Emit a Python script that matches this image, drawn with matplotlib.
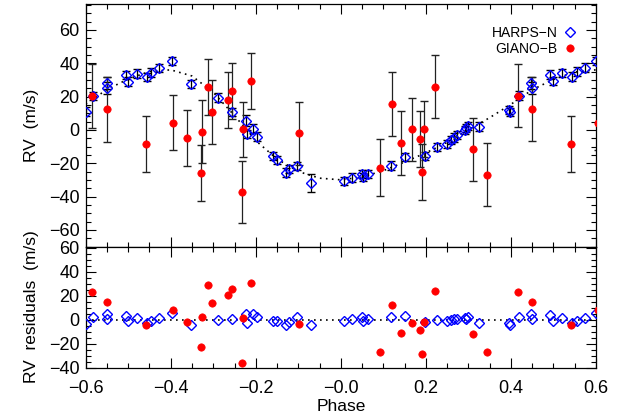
import matplotlib
matplotlib.use("Agg")
import matplotlib.pyplot as plt
from matplotlib.ticker import MultipleLocator, FixedLocator, FixedFormatter

plt.rcParams['font.family'] = ['Liberation Sans', 'DejaVu Sans']

# ---------------- data ----------------
# model curve (dotted)
m_phase = [-0.60, -0.55, -0.50, -0.45, -0.40, -0.35, -0.30, -0.25, -0.20, -0.15,
           -0.10, -0.05, 0.00, 0.05, 0.10, 0.15, 0.20, 0.25, 0.30, 0.35,
           0.40, 0.45, 0.50, 0.55, 0.60]
m_rv = [15.5, 24.2, 30.5, 35.0, 36.0, 32.3, 22.5, 8.5, -6.5, -17.5,
        -25.0, -29.0, -30.0, -28.3, -24.5, -19.3, -13.8, -7.5, 0.0, 7.3,
        15.3, 24.0, 30.3, 34.7, 36.0]

# HARPS-N
h_phase = [-0.599, -0.584, -0.551, -0.551, -0.506, -0.500, -0.480, -0.457, -0.446, -0.427,
           -0.397, -0.352, -0.290, -0.255, -0.2235, -0.221, -0.207, -0.198, -0.160, -0.151,
           -0.130, -0.122, -0.104, -0.071,
           0.008, 0.026, 0.049, 0.053, 0.065, 0.118, 0.151, 0.198, 0.226, 0.249,
           0.259, 0.265, 0.274, 0.291, 0.295, 0.300, 0.326, 0.3965, 0.3975, 0.418,
           0.448, 0.449, 0.493, 0.499, 0.520, 0.5435, 0.555, 0.575, 0.600]
h_rv = [11.0, 20.4, 28.0, 25.0, 32.8, 29.0, 33.8, 31.6, 34.4, 37.2,
        41.4, 27.6, 19.4, 10.6, 5.6, -2.4, 0.8, -4.0, -15.6, -18.0,
        -25.6, -23.6, -21.6, -32.0,
        -30.6, -28.6, -26.4, -28.4, -26.4, -21.4, -16.4, -15.6, -10.4, -8.4,
        -6.0, -4.6, -3.0, 0.0, 1.0, 2.4, 2.0, 11.8, 10.6, 20.6,
        28.0, 25.0, 33.2, 29.4, 34.0, 32.0, 35.0, 37.4, 41.4]
h_err = [2.5, 2.5, 3.5, 3.5, 2.5, 2.5, 2.5, 2.5, 2.5, 2.5,
         2.5, 2.5, 2.5, 2.5, 3.5, 2.5, 2.5, 2.5, 2.5, 2.5,
         2.5, 2.5, 2.5, 5.5,
         2.5, 2.5, 2.5, 2.5, 2.5, 2.5, 2.5, 2.5, 2.5, 2.5,
         2.5, 2.5, 2.5, 2.5, 2.5, 2.5, 2.5, 2.5, 2.5, 2.5,
         3.5, 3.5, 2.5, 2.5, 2.5, 2.5, 2.5, 2.5, 2.5]
h_res = [-3.9, 2.2, 4.7, 0.8, 3.4, -1.3, 1.4, -2.8, -1.1, 1.4,
         5.8, -4.7, -0.5, 0.8, 4.7, -2.5, 5.0, 2.2, -0.8, -0.8,
         -4.7, -1.9, 2.5, -4.7,
         -1.1, 0.6, 2.2, -0.8, 0.6, 2.0, 3.3, -1.7, 0.0, -1.4,
         -0.3, 0.6, 0.6, 1.7, 0.3, 2.2, -2.5, -3.0, -4.4, 2.2,
         4.7, 0.8, 3.6, -1.1, 1.4, -2.5, -1.1, 1.4, 5.3]

# GIANO-B
g_phase = [-0.586, -0.551, -0.459, -0.395, -0.362, -0.330, -0.327, -0.313, -0.3035, -0.266,
           -0.257, -0.230, -0.2315, -0.211, -0.098, 0.0925, 0.1207, 0.1426, 0.1685, 0.185,
           0.192, 0.196, 0.2203, 0.3113, 0.3426, 0.4156, 0.4486, 0.542, 0.604]
g_rv = [20.4, 12.4, -8.4, 4.4, -5.0, -26.0, -1.0, 25.6, 10.8, 18.0,
        23.4, 0.4, -37.2, 29.2, -2.0, -22.6, 15.6, -7.8, 0.4, -5.6,
        -25.2, 0.4, 26.0, -11.6, -26.8, 20.6, 12.4, -8.4, 4.4]
g_err = [19.2, 19.4, 16.8, 16.7, 16.7, 16.7, 19.0, 16.7, 19.0, 16.7,
         16.7, 16.5, 18.8, 16.7, 18.9, 16.9, 19.1, 19.0, 19.0, 16.7,
         16.8, 16.9, 19.0, 19.0, 19.1, 19.0, 19.2, 16.9, 16.7]
g_res = [23.1, 15.0, -4.4, 8.1, -1.7, -23.0, 2.2, 28.9, 13.6, 20.3,
         25.6, 1.7, -36.4, 30.6, -3.6, -26.7, 12.3, -11.0, -2.8, -8.3,
         -28.3, -2.2, 24.2, -12.2, -26.7, 23.1, 15.0, -4.7, 8.1]

res_line_phase = [-0.6, 0.6]
res_line_val = [0.0, 0.0]

x_ticks = [-0.6, -0.4, -0.2, 0.0, 0.2, 0.4, 0.6]
x_ticklabels = ['\u22120.6', '\u22120.4', '\u22120.2', '\u22120.0', '0.2', '0.4', '0.6']

# ---------------- figure ----------------
fig = plt.figure(figsize=(6.32, 4.19), dpi=100)
ax1 = fig.add_axes([0.1356, 0.41169, 0.8074, 0.57876])
ax2 = fig.add_axes([0.1356, 0.12243, 0.8074, 0.28926])

blue = (0, 0, 1)
red = (1, 0, 0)
dotted = (0, (1, 2.6))

# top panel
ax1.plot(m_phase, m_rv, color='black', lw=1.2, linestyle=dotted, zorder=1)
ax1.errorbar(h_phase, h_rv, yerr=h_err, fmt='none', ecolor='black',
             elinewidth=0.9, capsize=2.6, capthick=1.0, zorder=2)
ax1.errorbar(g_phase, g_rv, yerr=g_err, fmt='none', ecolor='#222222',
             elinewidth=0.9, capsize=2.8, capthick=1.0, zorder=2)
ax1.plot(h_phase, h_rv, linestyle='none', marker='D', ms=4.6, mfc='none',
         mec=blue, mew=1.0, zorder=3, label='HARPS\u2212N')
ax1.plot(g_phase, g_rv, linestyle='none', marker='o', ms=5.3, mfc=red,
         mec=red, mew=0.5, zorder=4, label='GIANO\u2212B')

ax1.set_xlim(-0.6, 0.6)
ax1.set_ylim(-70, 75.5)
ax1.set_ylabel('RV  (m/s)', fontsize=12.5)
ax1.yaxis.set_label_coords(-0.092, 0.5)

leg = ax1.legend(loc='upper right', bbox_to_anchor=(0.963, 0.91), frameon=False,
                 markerfirst=False, numpoints=1, fontsize=10, handlelength=1.0,
                 handletextpad=0.4, labelspacing=0.15, borderpad=0.0,
                 borderaxespad=0.0)

# bottom panel
ax2.plot(res_line_phase, res_line_val, color='black', lw=1.2, linestyle=dotted, zorder=1)
ax2.plot(h_phase, h_res, linestyle='none', marker='D', ms=4.6, mfc='none',
         mec=blue, mew=1.0, zorder=3)
ax2.plot(g_phase, g_res, linestyle='none', marker='o', ms=5.3, mfc=red,
         mec=red, mew=0.5, zorder=4)
ax2.set_xlim(-0.6, 0.6)
ax2.set_ylim(-40, 61)
ax2.set_ylabel('RV  residuals  (m/s)', fontsize=12.5)
ax2.yaxis.set_label_coords(-0.092, 0.5)
ax2.set_xlabel('Phase', fontsize=12.5)
ax2.xaxis.set_label_coords(0.5, -0.26)

for ax in (ax1, ax2):
    ax.xaxis.set_major_locator(FixedLocator(x_ticks))
    ax.xaxis.set_minor_locator(MultipleLocator(0.05))
    ax.yaxis.set_major_locator(MultipleLocator(20))
    ax.yaxis.set_minor_locator(MultipleLocator(5))
    ax.tick_params(which='both', direction='in', top=True, right=True, width=0.8)
    ax.tick_params(which='major', length=7.2)
    ax.tick_params(which='minor', length=3.6)
    ax.tick_params(axis='y', labelsize=13, pad=4.5)
    ax.tick_params(axis='x', labelsize=13, pad=8.5)
    for s in ax.spines.values():
        s.set_linewidth(0.9)

ax1.tick_params(axis='x', labelbottom=False)
ax2.xaxis.set_major_formatter(FixedFormatter(x_ticklabels))

fig.savefig('out.png', dpi=100)
